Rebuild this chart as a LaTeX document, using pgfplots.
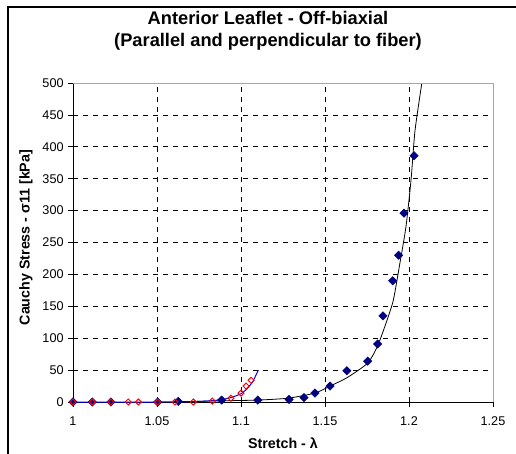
\documentclass[border=0pt]{standalone}
\usepackage{fontspec}
\setmainfont{Liberation Sans}
\usepackage{pgfplots}
\pgfplotsset{compat=1.18}
\definecolor{navy}{RGB}{0,0,128}
\begin{document}
\begin{tikzpicture}
\begin{axis}[
  at={(54.75pt,38.25pt)}, anchor=south west,
  scale only axis, width=315pt, height=239.25pt,
  xmin=1, xmax=1.25, ymin=0, ymax=500,
  xtick={1,1.05,...,1.25}, ytick={0,50,...,500},
  xticklabels={1,1.05,1.1,1.15,1.2,1.25},
  /pgf/number format/assume math mode=true,
  tick label style={font=\fontsize{9.5}{11}\selectfont},
  xticklabel style={yshift=-4pt},
  axis x line*=bottom, axis y line*=left,
  axis line style={black, line width=0.6pt},
  tick align=outside, major tick length=3.5pt,
  tick style={black, line width=0.6pt},
  grid=major, grid style={black, line width=0.6pt, dash pattern=on 4pt off 3.5pt},
  clip=true,
  extra description/.code={
    \draw[gray!70, line width=0.6pt] (rel axis cs:0,1) -- (rel axis cs:1,1) -- (rel axis cs:1,0);
  },
]
% fitted curve, perpendicular to fiber
\addplot[black, line width=0.6pt, smooth, tension=0.4] coordinates {
  (1.062,0.5) (1.09,2) (1.11,3) (1.128,6) (1.144,14) (1.153,25)
  (1.163,38) (1.1754,61) (1.1813,88) (1.1865,125) (1.1907,160)
  (1.1946,218) (1.1982,275) (1.2012,348) (1.2036,426) (1.208,506)
};
% fitted curve, parallel to fiber
\addplot[blue, line width=0.75pt, smooth, tension=0.4] coordinates {
  (1,0) (1.05,0) (1.07,0.5) (1.08,1.5) (1.088,3.5) (1.094,7)
  (1.1,13) (1.104,22) (1.107,32) (1.1103,50)
};
% data, perpendicular
\addplot[only marks, mark=square*, mark size=2.2pt, mark options={rotate=45, fill=navy, draw=navy}] coordinates {
  (1.0,0) (1.0115,0) (1.0226,0) (1.0504,0) (1.0627,1) (1.0885,3) (1.110,3)
  (1.1286,4) (1.1375,7) (1.144,14) (1.153,25) (1.163,49) (1.1754,64)
  (1.1813,91) (1.1845,135) (1.1903,190) (1.1938,230) (1.197,296) (1.203,386)
};
% data, parallel
\addplot[only marks, mark=square, mark size=1.6pt, mark options={rotate=45, draw=red, fill=white, line width=0.75pt}] coordinates {
  (1.0,0) (1.0115,0) (1.0226,0) (1.0329,0) (1.0389,0) (1.0504,0) (1.0607,0)
  (1.0716,0) (1.0829,1.5) (1.094,6) (1.1,14) (1.103,25) (1.106,34)
};
\end{axis}
\node[font=\fontsize{13.7}{16.5}\selectfont\bfseries, align=center] at (201pt,316.5pt)
  {Anterior Leaflet - Off-biaxial\\(Parallel and perpendicular to fiber)};
\node[font=\fontsize{10.7}{12}\selectfont\bfseries] at (212.25pt,7.7pt) {Stretch - λ};
\node[font=\fontsize{10.7}{12}\selectfont\bfseries, rotate=90] at (19.5pt,161.6pt) {Cauchy Stress - σ11 [kPa]};
\draw[black, line width=1.1pt] (6pt,-5pt) -- (6pt,334.5pt) -- (395pt,334.5pt);
\pgfresetboundingbox
\path[use as bounding box] (0,0) rectangle (387pt,339.75pt);
\end{tikzpicture}
\end{document}
